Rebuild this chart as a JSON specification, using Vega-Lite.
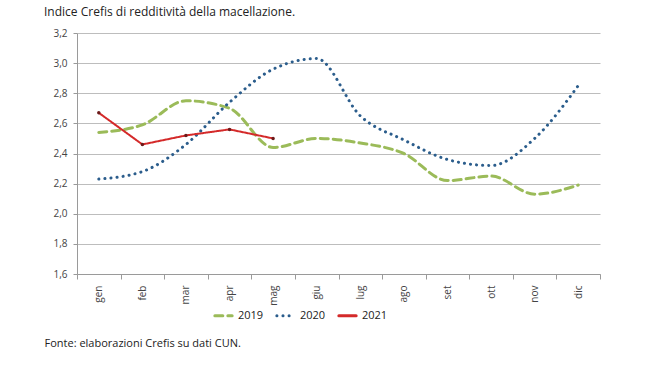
{
  "$schema": "https://vega.github.io/schema/vega-lite/v6.json",
  "width": 523,
  "height": 241,
  "autosize": {"type": "none"},
  "padding": {"left": 77, "top": 33, "right": 50, "bottom": 92},
  "background": "white",
  "title": {
    "text": "Indice Crefis di redditività della macellazione.",
    "anchor": "start",
    "frame": "group",
    "dx": -33,
    "offset": 9,
    "font": "Open Sans",
    "fontSize": 12,
    "fontWeight": "normal",
    "color": "#222222"
  },
  "config": {
    "locale": {"number": {"decimal": ",", "thousands": ".", "grouping": [3], "currency": ["€", ""]}},
    "view": {"stroke": null},
    "font": "Open Sans"
  },
  "data": {
    "values": [
      {"mese": "gen", "anno": "2019", "valore": 2.54},
      {"mese": "feb", "anno": "2019", "valore": 2.59},
      {"mese": "mar", "anno": "2019", "valore": 2.75},
      {"mese": "apr", "anno": "2019", "valore": 2.70},
      {"mese": "mag", "anno": "2019", "valore": 2.44},
      {"mese": "giu", "anno": "2019", "valore": 2.50},
      {"mese": "lug", "anno": "2019", "valore": 2.47},
      {"mese": "ago", "anno": "2019", "valore": 2.40},
      {"mese": "set", "anno": "2019", "valore": 2.22},
      {"mese": "ott", "anno": "2019", "valore": 2.25},
      {"mese": "nov", "anno": "2019", "valore": 2.13},
      {"mese": "dic", "anno": "2019", "valore": 2.19},
      {"mese": "gen", "anno": "2020", "valore": 2.23},
      {"mese": "feb", "anno": "2020", "valore": 2.28},
      {"mese": "mar", "anno": "2020", "valore": 2.46},
      {"mese": "apr", "anno": "2020", "valore": 2.74},
      {"mese": "mag", "anno": "2020", "valore": 2.96},
      {"mese": "giu", "anno": "2020", "valore": 3.03},
      {"mese": "lug", "anno": "2020", "valore": 2.65},
      {"mese": "ago", "anno": "2020", "valore": 2.49},
      {"mese": "set", "anno": "2020", "valore": 2.36},
      {"mese": "ott", "anno": "2020", "valore": 2.32},
      {"mese": "nov", "anno": "2020", "valore": 2.50},
      {"mese": "dic", "anno": "2020", "valore": 2.85},
      {"mese": "gen", "anno": "2021", "valore": 2.67},
      {"mese": "feb", "anno": "2021", "valore": 2.46},
      {"mese": "mar", "anno": "2021", "valore": 2.52},
      {"mese": "apr", "anno": "2021", "valore": 2.56},
      {"mese": "mag", "anno": "2021", "valore": 2.50}
    ]
  },
  "encoding": {
    "x": {
      "field": "mese",
      "type": "nominal",
      "sort": ["gen", "feb", "mar", "apr", "mag", "giu", "lug", "ago", "set", "ott", "nov", "dic"],
      "scale": {"paddingInner": 0, "paddingOuter": 0},
      "axis": {
        "title": "Fonte: elaborazioni Crefis su dati CUN.",
        "titleAnchor": "start",
        "titleAlign": "left",
        "titleX": -33,
        "titleY": 63,
        "titleFontSize": 11,
        "titleFontWeight": "normal",
        "titleColor": "#222222",
        "labelAngle": -90,
        "labelFontSize": 10,
        "labelColor": "#444444",
        "labelPadding": 6,
        "tickBand": "extent",
        "tickColor": "#9a9a9a",
        "tickSize": 5,
        "domainColor": "#9a9a9a",
        "grid": false
      }
    },
    "y": {
      "field": "valore",
      "type": "quantitative",
      "scale": {"domain": [1.6, 3.2], "nice": false, "zero": false},
      "axis": {
        "title": null,
        "values": [1.6, 1.8, 2.0, 2.2, 2.4, 2.6, 2.8, 3.0, 3.2],
        "format": ".1f",
        "labelFontSize": 10,
        "labelColor": "#444444",
        "labelPadding": 6,
        "tickColor": "#9a9a9a",
        "tickSize": 4,
        "domainColor": "#9a9a9a",
        "gridColor": "#bdbdbd",
        "gridWidth": 1
      }
    },
    "color": {
      "field": "anno",
      "type": "nominal",
      "scale": {"domain": ["2019", "2020", "2021"], "range": ["#9bbb59", "#2b5d8c", "#d42a2a"]},
      "legend": {
        "title": null,
        "orient": "none",
        "legendX": 136,
        "legendY": 272,
        "direction": "horizontal",
        "symbolType": "stroke",
        "symbolStrokeWidth": 3,
        "symbolSize": 300,
        "labelFontSize": 11,
        "labelColor": "#222222",
        "columnPadding": 6,
        "encode": {"symbols": {"update": {"strokeCap": {"value": "round"}}}}
      }
    },
    "strokeDash": {
      "field": "anno",
      "type": "nominal",
      "scale": {"domain": ["2019", "2020", "2021"], "range": [[8, 5], [0.1, 6], [1, 0]]},
      "legend": null
    }
  },
  "layer": [
    {
      "transform": [{"filter": "datum.anno != '2021'"}],
      "mark": {"type": "line", "interpolate": "monotone", "strokeWidth": 3, "strokeCap": "round"}
    },
    {
      "transform": [{"filter": "datum.anno == '2021'"}],
      "mark": {"type": "line", "strokeWidth": 2},
      "encoding": {"strokeDash": {"value": [1, 0]}}
    },
    {
      "transform": [{"filter": "datum.anno == '2021'"}],
      "mark": {"type": "point", "filled": true, "size": 12, "opacity": 1},
      "encoding": {"color": {"value": "#6b1a1a"}, "strokeDash": {"value": [1, 0]}}
    }
  ]
}
